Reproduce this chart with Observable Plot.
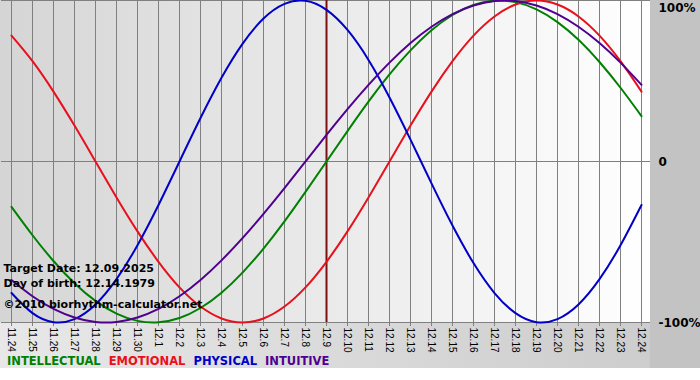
<!DOCTYPE html>
<html>
<head>
<meta charset="utf-8">
<script src="https://cdn.jsdelivr.net/npm/d3@7"></script>
<script src="https://cdn.jsdelivr.net/npm/@observablehq/plot@0.6"></script>
<style>
  html, body { margin: 0; padding: 0; background: #ffffff; }
  #wrap { width: 700px; height: 380px; overflow: hidden; }
  #legend {
    width: 700px; height: 28px; box-sizing: border-box; padding-left: 7px;
    font: bold 11.5px "DejaVu Sans", Verdana, sans-serif; line-height: 18px;
    background:
      linear-gradient(#c3c3c3, #c3c3c3) right top / 50px 16px no-repeat,
      linear-gradient(to right, #e8e8e8, #cbcbcb) left top / 100% 16px no-repeat,
      #ffffff;
    white-space: nowrap;
  }
  #legend span { margin-right: 8px; }
  .xaxis text { font-family: "Liberation Sans", Arial, sans-serif; }
</style>
</head>
<body>
<div id="wrap"></div>
<script>
const dates = ["11.24","11.25","11.26","11.27","11.28","11.29","11.30",
  "12.1","12.2","12.3","12.4","12.5","12.6","12.7","12.8","12.9","12.10",
  "12.11","12.12","12.13","12.14","12.15","12.16","12.17","12.18","12.19",
  "12.20","12.21","12.22","12.23","12.24"];

const intellectual = [-0.282,-0.458,-0.618,-0.756,-0.866,-0.945,-0.990,-0.999,-0.972,-0.910,-0.815,
  -0.690,-0.541,-0.372,-0.189,0.000,0.189,0.372,0.541,0.690,0.815,0.910,0.972,0.999,0.990,0.945,
  0.866,0.756,0.618,0.458,0.282];
const emotional = [0.782,0.623,0.434,0.223,0.000,-0.223,-0.434,-0.623,-0.782,-0.901,-0.975,
  -1.000,-0.975,-0.901,-0.782,-0.623,-0.434,-0.223,0.000,0.223,0.434,0.623,0.782,0.901,0.975,1.000,
  0.975,0.901,0.782,0.623,0.434];
const physical = [-0.817,-0.942,-0.998,-0.979,-0.888,-0.731,-0.520,-0.270,0.000,0.270,0.520,
  0.731,0.888,0.979,0.998,0.942,0.817,0.631,0.398,0.136,-0.136,-0.398,-0.631,-0.817,-0.942,-0.998,
  -0.979,-0.888,-0.731,-0.520,-0.270];
const intuitive = [-0.736,-0.837,-0.916,-0.969,-0.997,-0.997,-0.969,-0.916,-0.837,-0.736,-0.614,
  -0.476,-0.325,-0.165,0.000,0.165,0.325,0.476,0.614,0.736,0.837,0.916,0.969,0.997,0.997,0.969,
  0.916,0.837,0.736,0.614,0.476];

const seriesNames = ["INTELLECTUAL","EMOTIONAL","PHYSICAL","INTUITIVE"];
const seriesColors = ["#008000","#e8101c","#0000c8","#500090"];
const seriesValues = [intellectual, emotional, physical, intuitive];

const targetDate = "12.9";
const yTickValues = [1, 0, -1];
const yTickLabels = ["100%", "0", "-100%"];
const infoLines = ["Target Date: 12.09.2025", "Day of birth: 12.14.1979", "©2010 biorhythm-calculator.net"];

const lineMarks = seriesValues.map((vals, k) =>
  Plot.line(vals, {
    x: (d, i) => dates[i], y: d => d,
    stroke: seriesColors[k], strokeWidth: 2, curve: "natural"
  })
);

const chart = Plot.plot({
  width: 700, height: 352,
  marginLeft: 1, marginRight: 50, marginTop: 0, marginBottom: 30,
  x: {type: "point", domain: dates, padding: 0},
  y: {domain: [-1, 1], axis: null},
  style: {
    fontFamily: "'DejaVu Sans', Verdana, sans-serif",
    overflow: "visible",
    background:
      "linear-gradient(#c3c3c3, #c3c3c3) right top / 50px 100% no-repeat, " +
      "linear-gradient(to right, #d5d5d5, #ffffff) left top / 650px 322px no-repeat, " +
      "linear-gradient(to right, #e8e8e8, #cbcbcb)"
  },
  marks: [
    Plot.gridX(dates, {stroke: "#808080", strokeOpacity: 1}),
    Plot.ruleY(yTickValues, {stroke: "#808080"}),
    Plot.axisX({tickRotate: 90, tickSize: 4, tickPadding: 1, fontSize: 10,
      stroke: "#808080", fill: "#000000", label: null, className: "xaxis"}),
    Plot.ruleX([targetDate], {stroke: "#7a1010", strokeWidth: 2}),
    ...lineMarks,
    Plot.text([yTickLabels[0]], {y: () => yTickValues[0], text: d => d, frameAnchor: "right",
      textAnchor: "start", dx: 8, dy: 8, fontSize: 12, fontWeight: "bold", fill: "#000"}),
    Plot.text(yTickLabels.slice(1), {y: (d, i) => yTickValues[i + 1], text: d => d, frameAnchor: "right",
      textAnchor: "start", dx: 8, dy: 1, fontSize: 12, fontWeight: "bold", fill: "#000"}),
    Plot.text([infoLines[0]], {text: d => d, frameAnchor: "bottom-left", textAnchor: "start",
      dx: 2, dy: -51, fontSize: 11, fontWeight: "bold", fill: "#000"}),
    Plot.text([infoLines[1]], {text: d => d, frameAnchor: "bottom-left", textAnchor: "start",
      dx: 2, dy: -36, fontSize: 11, fontWeight: "bold", fill: "#000"}),
    Plot.text([infoLines[2]], {text: d => d, frameAnchor: "bottom-left", textAnchor: "start",
      dx: 2, dy: -15, fontSize: 11, fontWeight: "bold", fill: "#000"})
  ]
});

const wrap = document.getElementById("wrap");
wrap.appendChild(chart);
const legend = document.createElement("div");
legend.id = "legend";
seriesNames.forEach((n, k) => {
  const s = document.createElement("span");
  s.textContent = n;
  s.style.color = seriesColors[k];
  legend.appendChild(s);
});
wrap.appendChild(legend);
</script>
</body>
</html>
